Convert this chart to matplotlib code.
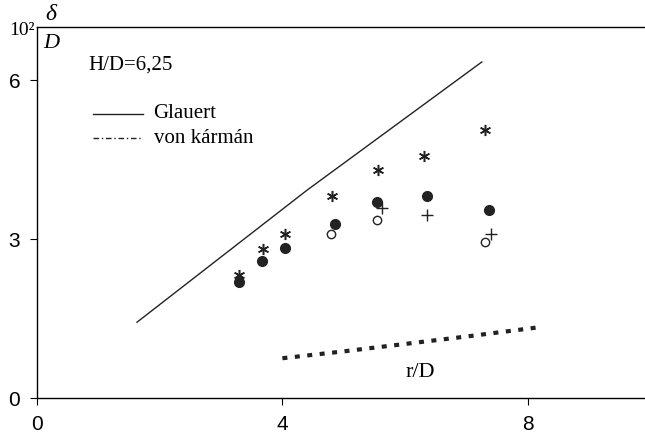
import matplotlib.pyplot as plt
from matplotlib import font_manager

# Boundary-layer thickness delta/D (x10^-2) vs r/D, H/D = 6.25
r_star = [3.30, 3.69, 4.05, 4.81, 5.56, 6.31, 7.31]
d_star = [2.33, 2.81, 3.09, 3.81, 4.30, 4.57, 5.06]

r_fill = [3.29, 3.67, 4.05, 4.86, 5.54, 6.36, 7.37]
d_fill = [2.18, 2.58, 2.83, 3.29, 3.69, 3.81, 3.54]

r_open = [4.79, 5.54, 7.30]
d_open = [3.10, 3.35, 2.95]

r_plus = [5.62, 6.36, 7.40]
d_plus = [3.58, 3.45, 3.09]

# Theory curves
r_glauert = [1.63, 4.40, 7.25]
d_glauert = [1.43, 3.92, 6.34]

r_karman = [4.00, 5.00, 6.00, 7.00, 8.15]
d_karman = [0.75, 0.88, 1.02, 1.16, 1.33]

serif = "Liberation Serif"
installed = {f.name for f in font_manager.fontManager.ttflist}
sans = "Liberation Sans Narrow" if "Liberation Sans Narrow" in installed else "Liberation Sans"
ink = "#222222"

fig = plt.figure(figsize=(6.45, 4.44), dpi=100)
ax = fig.add_axes([37 / 645, 46 / 444, 1 - 37 / 645, 371 / 444])

ax.plot(r_glauert, d_glauert, color=ink, lw=1.0)
ax.plot(r_karman, d_karman, color=ink, lw=3.0, ls=(0, (1.2, 1.8)))

ax.plot(r_star, d_star, ls="none", marker=(6, 2, 0), ms=8, mec=ink, mew=1.1)
ax.plot(r_fill, d_fill, ls="none", marker="o", ms=7, color=ink)
ax.plot(r_open, d_open, ls="none", marker="o", ms=6, mfc="white", mec=ink, mew=1.0)
ax.plot(r_plus, d_plus, ls="none", marker="+", ms=9, mec=ink, mew=1.0)

ax.set_xlim(0, 9.91)
ax.set_ylim(0, 7)
ax.set_xticks([0, 4, 8])
ax.set_yticks([0, 3, 6])
ax.tick_params(direction="out", length=5, width=0.8, labelsize=15, pad=7)
for lab in ax.get_xticklabels() + ax.get_yticklabels():
    lab.set_family(sans)
for side in ["left", "top", "bottom"]:
    ax.spines[side].set_linewidth(1.0)
ax.spines["right"].set_visible(False)

# Legend drawn by hand
ax.plot([0.91, 1.72], [5.36, 5.36], color=ink, lw=1.0)
ax.plot([0.91, 1.72], [4.90, 4.90], color=ink, lw=1.0, ls=(0, (4, 2, 1, 2)))
ax.text(1.90, 5.36, "Glauert", family=serif, fontsize=15, va="center")
ax.text(1.90, 4.90, "von kármán", family=serif, fontsize=15, va="center")

ax.text(0.83, 6.28, "H/D=6,25", family=serif, fontsize=15, va="center")
ax.text(6.24, 0.40, "r/D", family=serif, fontsize=16, ha="center", va="baseline")

# y-axis scale factor and quantity, sitting on the top spine
fig.text(9 / 645, 1 - 35 / 444, "10²", family=serif, fontsize=14, va="baseline")
fig.text(51 / 645, 1 - 14 / 444, "δ", family=serif, style="italic", fontsize=17,
         ha="center", va="center")
fig.text(51 / 645, 1 - 43 / 444, "D", family=serif, style="italic", fontsize=16,
         ha="center", va="center")

fig.savefig("out.png", dpi=100)
